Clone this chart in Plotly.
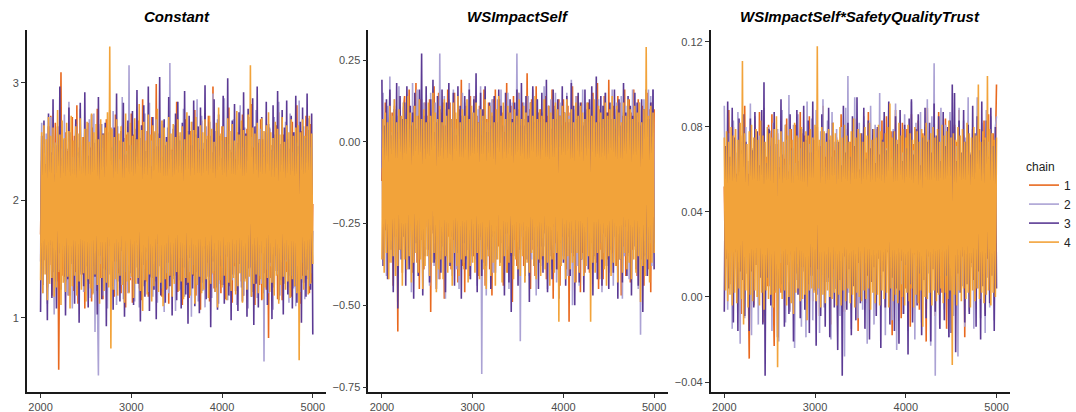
import plotly.graph_objects as go

iterations = [2000 + 12.5 * j for j in range(241)]  # thinned draws per chain
chains = ["1", "2", "3", "4"]
colors = ["#E8691F", "#ABA2D4", "#5B3A94", "#F2A33A"]
titles = ["Constant", "WSImpactSelf", "WSImpactSelf*SafetyQualityTrust"]

constant_c1 = [
    1.71, 2.34, 1.42, 2.49, 1.58, 2.21, 1.26, 2.63, 1.45, 2.72, 1.19, 2.38, 1.53, 2.66, 1.31, 2.47, 0.56, 2.29, 3.09, 1.36,
    2.27, 1.35, 2.58, 1.64, 2.42, 1.19, 2.36, 1.48, 2.71, 1.23, 2.55, 1.39, 2.81, 1.12, 2.45, 1.62, 2.19, 1.37, 2.54, 1.08,
    2.38, 1.55, 2.66, 1.29, 2.45, 1.14, 2.62, 1.44, 2.31, 1.23, 2.78, 1.59, 2.25, 1.34, 2.49, 1.16, 2.57, 1.41, 2.69, 1.27,
    2.39, 1.66, 2.62, 1.27, 2.48, 1.18, 2.73, 1.49, 2.18, 1.38, 2.51, 1.21, 2.64, 1.45, 2.33, 1.09, 2.56, 1.61, 2.47, 1.32,
    2.74, 1.13, 2.56, 1.39, 2.24, 1.57, 2.68, 1.25, 2.42, 1.15, 2.86, 1.46, 2.37, 1.31, 2.59, 1.18, 2.44, 1.52, 2.71, 1.24,
    2.33, 1.41, 2.99, 1.28, 2.52, 1.63, 2.29, 1.18, 2.65, 1.46, 2.37, 1.24, 2.53, 1.12, 2.76, 1.35, 2.43, 1.59, 2.21, 1.36,
    2.84, 1.22, 2.52, 1.47, 2.32, 1.11, 2.46, 1.63, 2.69, 1.28, 2.38, 1.17, 2.59, 1.47, 2.26, 1.36, 2.77, 1.19, 2.51, 1.33,
    2.43, 1.07, 2.68, 1.41, 2.35, 1.26, 2.58, 1.52, 2.72, 1.14, 2.44, 1.37, 2.97, 1.25, 2.44, 1.62, 2.18, 1.29, 2.55, 1.21,
    2.63, 1.49, 2.28, 1.16, 2.54, 1.38, 2.79, 1.27, 2.41, 1.13, 2.66, 1.44, 2.35, 1.22, 2.58, 1.56, 2.47, 1.31, 2.73, 1.19,
    2.48, 1.34, 2.61, 1.21, 2.39, 1.58, 2.82, 1.26, 2.45, 1.11, 2.57, 1.43, 2.31, 1.28, 2.69, 1.15, 2.52, 1.37, 2.42, 1.24,
    2.28, 0.83, 2.61, 1.34, 2.47, 1.22, 2.39, 1.58, 2.64, 1.16, 2.75, 1.42, 2.31, 1.15, 2.56, 1.67, 2.22, 1.39, 2.49, 1.26,
    2.38, 1.18, 2.67, 1.45, 2.53, 1.23, 2.81, 1.33, 2.46, 1.12, 2.59, 1.36, 2.34, 1.27, 2.72, 1.41, 2.44, 1.21, 2.65, 1.30,
    1.97]
constant_c2 = [
    1.48, 2.66, 1.21, 2.39, 1.74, 2.57, 1.12, 2.33, 1.59, 2.71, 1.36, 2.18, 1.03, 2.49, 1.67, 2.28, 1.41, 2.62, 1.25, 2.44,
    1.58, 2.73, 1.31, 2.16, 1.19, 2.84, 1.46, 2.52, 1.08, 2.37, 1.62, 2.65, 1.27, 2.41, 1.15, 2.78, 1.39, 2.29, 1.22, 2.61,
    1.44, 2.55, 1.31, 2.69, 1.17, 2.43, 1.35, 2.74, 0.88, 2.52, 1.29, 0.51, 2.37, 1.46, 2.65, 1.19, 2.41, 1.62, 2.29, 1.08,
    2.58, 1.37, 2.21, 1.52, 2.76, 1.24, 2.47, 1.11, 2.63, 1.42, 2.35, 1.28, 2.88, 1.16, 2.53, 1.39, 2.42, 1.21, 3.15, 1.34,
    2.47, 1.71, 2.34, 1.14, 2.61, 1.43, 2.25, 1.09, 2.53, 1.66, 2.38, 1.27, 2.74, 1.49, 2.19, 1.22, 2.83, 1.35, 2.51, 1.18,
    2.44, 1.31, 2.69, 1.13, 2.57, 1.44, 2.36, 1.25, 2.68, 1.05, 2.47, 1.38, 2.62, 1.21, 3.17, 1.57, 2.42, 1.33, 2.64, 1.06,
    2.31, 1.69, 2.55, 1.24, 2.43, 1.51, 2.78, 1.18, 2.36, 1.61, 2.59, 1.39, 2.24, 1.01, 2.67, 1.45, 2.32, 1.29, 2.86, 1.14,
    2.41, 1.35, 2.72, 1.23, 2.49, 1.09, 2.63, 1.47, 2.28, 1.32, 2.55, 1.17, 2.91, 1.40, 2.46, 1.26, 2.69, 1.12, 2.38, 1.53,
    2.51, 1.28, 2.87, 1.54, 2.27, 1.15, 2.48, 1.63, 2.39, 1.32, 2.69, 1.47, 2.22, 1.11, 2.56, 1.38, 2.81, 1.26, 2.45, 1.19,
    2.62, 1.34, 2.37, 1.08, 2.71, 1.43, 2.54, 1.22, 2.33, 1.46, 2.77, 1.17, 2.49, 1.36, 2.61, 1.29, 2.40, 0.63, 2.58, 1.41,
    2.35, 1.21, 2.62, 1.44, 2.46, 1.07, 2.71, 1.53, 2.28, 1.37, 2.84, 1.19, 2.44, 1.62, 2.33, 1.29, 2.67, 1.48, 2.52, 1.13,
    2.74, 1.36, 2.41, 1.25, 2.58, 1.10, 2.49, 1.39, 2.85, 1.22, 2.37, 1.47, 2.63, 1.16, 2.53, 1.33, 2.70, 1.27, 2.45, 1.38,
    1.74]
constant_c3 = [
    1.05, 2.55, 1.28, 2.68, 1.49, 2.31, 0.98, 2.74, 1.62, 2.41, 1.17, 2.86, 1.39, 2.22, 1.08, 2.63, 1.55, 2.97, 1.24, 2.36,
    1.71, 2.52, 1.02, 2.44, 1.33, 2.79, 1.19, 2.58, 1.46, 2.27, 1.12, 2.69, 1.58, 2.41, 0.96, 2.83, 1.37, 2.18, 1.27, 2.92,
    1.44, 2.61, 1.09, 2.38, 1.66, 2.73, 1.21, 2.49, 1.35, 2.27, 1.03, 2.88, 1.53, 2.65, 1.16, 2.57, 1.42, 2.66, 0.93, 2.34,
    1.61, 2.77, 1.26, 2.45, 1.07, 2.62, 1.48, 2.91, 1.31, 2.21, 1.14, 2.59, 1.57, 2.83, 1.01, 2.39, 1.73, 2.68, 1.22, 2.47,
    1.38, 2.76, 1.11, 2.53, 1.64, 2.94, 1.29, 2.35, 0.97, 2.64, 1.45, 2.81, 1.18, 2.42, 1.56, 2.97, 1.06, 2.29, 1.34, 2.71,
    1.24, 2.58, 0.99, 2.46, 1.63, 3.05, 1.19, 2.37, 1.41, 2.69, 1.13, 2.54, 1.47, 2.88, 1.27, 2.43, 1.02, 2.61, 1.36, 2.74,
    1.15, 2.84, 1.32, 2.51, 1.08, 2.66, 1.43, 2.93, 1.20, 2.38, 0.95, 2.72, 1.51, 2.47, 1.25, 2.85, 1.10, 2.56, 1.39, 2.63,
    1.04, 2.79, 1.30, 2.44, 1.59, 2.98, 1.16, 2.52, 1.35, 2.67, 0.92, 2.41, 1.48, 2.86, 1.22, 2.59, 1.07, 2.73, 1.44, 2.36,
    1.28, 2.89, 1.12, 2.54, 1.52, 3.04, 1.19, 2.43, 0.98, 2.68, 1.37, 2.82, 1.23, 2.49, 1.06, 2.75, 1.46, 2.61, 1.14, 2.92,
    1.33, 2.57, 1.01, 2.78, 1.42, 2.46, 1.18, 2.87, 0.94, 2.63, 1.29, 2.97, 1.09, 2.52, 1.55, 2.71, 1.21, 2.39, 1.38, 2.84,
    1.11, 2.65, 1.47, 2.43, 0.99, 2.81, 1.26, 2.56, 1.40, 2.93, 1.15, 2.48, 1.32, 2.77, 1.03, 2.62, 1.49, 2.85, 1.20, 2.44,
    1.36, 2.72, 1.08, 2.58, 1.27, 2.89, 1.13, 2.46, 1.43, 2.67, 0.96, 2.79, 1.30, 2.53, 1.18, 2.91, 1.41, 2.60, 1.24, 2.74,
    0.86]
constant_c4 = [
    1.32, 2.58, 1.21, 2.64, 1.37, 2.52, 1.15, 2.71, 1.29, 2.55, 1.34, 2.62, 1.18, 2.49, 1.26, 2.77, 1.39, 2.56, 1.11, 2.68,
    1.30, 2.53, 1.22, 2.66, 1.35, 2.59, 1.08, 2.72, 1.27, 2.51, 1.36, 2.63, 1.19, 2.57, 1.31, 2.70, 1.24, 2.54, 1.38, 2.61,
    1.14, 2.67, 1.33, 2.50, 1.25, 2.74, 1.20, 2.58, 1.37, 2.65, 1.28, 2.52, 1.12, 2.69, 1.34, 2.56, 1.23, 2.62, 1.30, 2.75,
    1.26, 3.31, 0.74, 2.61, 1.24, 2.54, 1.33, 2.69, 1.19, 2.57, 1.36, 2.63, 1.28, 2.50, 1.13, 2.74, 1.31, 2.58, 1.21, 2.66,
    1.35, 2.55, 1.17, 2.70, 1.29, 2.52, 1.34, 2.82, 1.23, 2.60, 1.06, 2.67, 1.32, 2.51, 1.20, 2.73, 1.37, 2.56, 1.14, 2.64,
    1.27, 2.59, 1.35, 2.78, 1.22, 2.53, 1.30, 2.68, 1.10, 2.62, 1.33, 2.50, 1.25, 2.71, 1.36, 2.57, 1.18, 2.65, 1.29, 2.54,
    1.39, 2.69, 1.23, 2.58, 1.31, 2.63, 1.16, 2.52, 1.34, 2.75, 1.30, 2.56, 1.19, 2.67, 1.37, 2.60, 1.12, 2.71, 1.28, 2.53,
    1.35, 2.64, 1.21, 2.58, 1.24, 2.69, 1.33, 2.55, 1.17, 2.72, 1.29, 2.61, 1.38, 2.50, 1.22, 2.66, 1.09, 2.79, 1.32, 2.57,
    1.26, 2.63, 1.36, 2.54, 1.15, 2.70, 1.30, 2.59, 1.23, 2.65, 1.34, 2.51, 1.20, 2.76, 1.27, 2.56, 1.38, 2.68, 1.13, 2.60,
    1.31, 2.55, 1.24, 2.73, 1.35, 3.15, 1.18, 2.62, 1.29, 2.57, 1.37, 2.66, 1.21, 2.52, 1.33, 2.70, 1.16, 2.59, 1.26, 2.64,
    1.34, 2.75, 1.22, 2.58, 1.30, 2.53, 1.19, 2.67, 1.36, 2.61, 1.12, 2.56, 1.28, 2.71, 1.35, 2.50, 1.24, 2.64, 1.31, 2.58,
    1.17, 2.69, 1.33, 2.55, 1.27, 2.62, 1.21, 2.64, 0.64, 2.58, 1.33, 2.69, 1.24, 2.55, 1.36, 2.63, 1.20, 2.72, 1.29, 2.57,
    1.46]

ws_c1 = [
    -0.12, 0.07, -0.31, 0.12, -0.26, 0.04, -0.37, 0.15, -0.21, 0.09, -0.44, 0.11, -0.29, 0.03, -0.58, 0.14, -0.33, 0.06, -0.40, 0.10,
    0.14, -0.34, 0.02, -0.28, 0.16, -0.19, 0.05, -0.40, 0.11, -0.24, 0.18, -0.37, 0.08, -0.45, 0.13, -0.30, 0.04, -0.39, 0.12, -0.26,
    0.08, -0.33, 0.13, -0.52, 0.03, -0.27, 0.17, -0.36, 0.06, -0.21, 0.15, -0.42, 0.09, -0.31, 0.12, -0.48, 0.05, -0.35, 0.16, -0.29,
    0.12, -0.39, 0.01, -0.30, 0.15, -0.25, 0.07, -0.43, 0.10, -0.18, 0.19, -0.38, 0.04, -0.46, 0.11, -0.33, 0.08, -0.41, 0.14, -0.27,
    0.04, -0.35, 0.14, -0.23, 0.08, -0.41, 0.11, -0.29, 0.02, -0.37, 0.16, -0.44, 0.07, -0.32, 0.12, -0.39, 0.05, -0.47, 0.13, -0.28,
    0.16, -0.26, 0.06, -0.32, 0.13, -0.20, 0.09, -0.44, 0.03, -0.28, 0.18, -0.40, 0.07, -0.35, 0.11, -0.49, 0.14, -0.30, 0.05, -0.38,
    0.15, -0.34, 0.05, -0.24, 0.12, -0.38, 0.07, -0.30, 0.21, -0.22, 0.10, -0.45, 0.13, -0.33, 0.06, -0.41, 0.17, -0.28, 0.09, -0.37,
    0.10, -0.36, 0.04, -0.27, 0.14, -0.42, 0.08, -0.25, 0.02, -0.33, 0.16, -0.48, 0.11, -0.31, 0.07, -0.39, 0.13, -0.44, 0.05, -0.29,
    0.13, -0.21, 0.06, -0.39, 0.11, -0.55, 0.09, -0.28, 0.17, -0.35, 0.04, -0.43, 0.14, -0.30, 0.08, -0.46, 0.12, -0.34, 0.06, -0.40,
    0.05, -0.23, 0.12, -0.40, 0.08, -0.31, 0.15, -0.26, 0.03, -0.37, 0.18, -0.45, 0.10, -0.33, 0.07, -0.42, 0.14, -0.29, 0.09, -0.36,
    0.19, -0.29, 0.07, -0.34, 0.11, -0.24, 0.04, -0.38, 0.14, -0.27, 0.12, -0.47, 0.08, -0.32, 0.16, -0.41, 0.06, -0.35, 0.13, -0.43,
    0.09, -0.33, 0.16, -0.22, 0.06, -0.41, 0.13, -0.30, 0.05, -0.36, 0.11, -0.44, 0.07, -0.28, 0.15, -0.39, 0.10, -0.46, 0.12, -0.34,
    0.10]
ws_c2 = [
    -0.08, 0.15, -0.34, 0.06, -0.41, 0.11, -0.21, 0.20, -0.29, 0.03, -0.37, 0.13, -0.16, 0.08, -0.43, 0.17, -0.25, 0.05, -0.32, 0.12,
    -0.19, 0.09, -0.39, 0.14, -0.27, 0.04, -0.46, 0.18, -0.35, 0.10, -0.22, 0.16, -0.40, 0.07, -0.30, 0.13, -0.37, 0.12, -0.24, 0.11,
    -0.33, 0.08, -0.44, 0.15, -0.26, 0.05, -0.38, 0.12, -0.29, 0.09, -0.42, 0.27, -0.31, 0.06, -0.36, 0.14, -0.48, 0.10, -0.23, 0.13,
    -0.34, 0.07, -0.41, 0.16, -0.28, 0.04, -0.39, 0.11, -0.45, 0.08, -0.30, 0.15, -0.37, 0.12, -0.36, 0.06, -0.33, 0.18, -0.42, 0.09,
    -0.27, 0.14, -0.36, 0.05, -0.44, 0.10, -0.23, 0.17, -0.71, 0.08, -0.31, 0.13, -0.47, 0.06, -0.35, 0.11, -0.28, 0.13, -0.40, 0.12,
    -0.19, -0.36, 0.13, 0.08, -0.37, 0.16, -0.27, 0.03, -0.40, 0.11, -0.33, 0.15, -0.45, 0.07, -0.29, 0.12, -0.38, 0.09, -0.25, 0.27,
    -0.22, 0.15, -0.61, 0.07, -0.29, 0.12, -0.43, 0.05, -0.25, 0.14, -0.41, 0.10, -0.36, 0.16, -0.30, 0.08, -0.47, 0.13, -0.32, 0.06,
    -0.38, 0.09, -0.21, 0.17, -0.32, 0.06, -0.45, 0.11, -0.26, 0.13, -0.39, 0.08, -0.34, 0.15, -0.43, 0.10, -0.28, 0.12, -0.37, 0.05,
    -0.35, 0.04, -0.28, 0.15, -0.41, 0.08, -0.23, 0.19, -0.50, 0.10, -0.33, 0.14, -0.38, 0.07, -0.44, 0.11, -0.27, 0.16, -0.36, 0.09,
    -0.30, 0.12, -0.24, 0.06, -0.39, 0.14, -0.27, 0.09, -0.36, 0.05, -0.42, 0.13, -0.31, 0.08, -0.46, 0.11, -0.34, 0.15, -0.29, 0.07,
    -0.40, 0.10, -0.33, 0.16, -0.44, 0.08, -0.26, 0.12, -0.37, 0.06, -0.31, 0.14, -0.48, 0.09, -0.35, 0.11, -0.28, 0.13, -0.42, 0.07,
    -0.22, 0.16, -0.33, 0.11, -0.38, 0.08, -0.45, 0.12, -0.59, 0.10, -0.29, 0.13, -0.36, 0.09, -0.41, 0.16, -0.31, 0.14, -0.38, 0.16,
    -0.31]
ws_c3 = [
    0.19, -0.38, 0.05, -0.27, 0.13, -0.42, -0.06, 0.16, -0.33, 0.02, -0.46, 0.10, -0.22, 0.18, -0.51, -0.03, 0.14, -0.36, 0.07, -0.29,
    0.12, -0.44, 0.17, -0.15, -0.39, 0.11, -0.25, 0.09, -0.48, 0.15, -0.31, 0.04, -0.41, 0.16, -0.19, 0.27, -0.47, 0.08, -0.35, 0.17,
    -0.23, 0.06, -0.43, 0.13, -0.28, 0.19, -0.37, 0.03, -0.45, 0.14, -0.21, 0.10, -0.40, 0.16, -0.32, 0.05, -0.46, 0.12, -0.26, 0.18,
    -0.38, 0.07, -0.29, 0.15, -0.44, 0.02, -0.34, 0.17, -0.24, 0.11, -0.48, 0.08, -0.31, 0.14, -0.39, 0.04, -0.27, 0.16, -0.42, 0.09,
    -0.35, 0.13, -0.22, 0.21, -0.46, 0.06, -0.30, 0.15, -0.41, 0.10, -0.26, 0.17, -0.38, 0.03, -0.33, 0.12, -0.45, 0.08, -0.29, 0.14,
    -0.40, 0.06, -0.24, 0.16, -0.37, 0.11, -0.31, 0.05, -0.47, 0.15, -0.28, 0.09, -0.43, 0.13, -0.52, 0.07, -0.35, 0.12, -0.25, 0.16,
    -0.44, 0.10, -0.33, 0.18, -0.27, 0.05, -0.41, 0.14, -0.36, 0.08, -0.49, 0.12, -0.30, 0.17, -0.38, 0.06, -0.23, 0.13, -0.45, 0.09,
    -0.32, 0.15, -0.40, 0.07, -0.28, 0.19, -0.46, 0.11, -0.35, 0.04, -0.42, 0.16, -0.26, 0.10, -0.39, 0.13, -0.48, 0.08, -0.31, 0.17,
    -0.37, 0.09, -0.44, 0.14, -0.29, 0.06, -0.41, 0.18, -0.34, 0.11, -0.50, 0.07, -0.27, 0.15, -0.43, 0.12, -0.36, 0.05, -0.46, 0.16,
    -0.30, 0.10, -0.39, 0.13, -0.25, 0.17, -0.47, 0.08, -0.35, 0.20, -0.42, 0.06, -0.31, 0.14, -0.44, 0.11, -0.28, 0.15, -0.38, 0.09,
    -0.45, 0.12, -0.33, 0.07, -0.40, 0.16, -0.29, 0.10, -0.48, 0.13, -0.36, 0.05, -0.43, 0.18, -0.26, 0.09, -0.41, 0.14, -0.34, 0.11,
    -0.47, 0.08, -0.32, 0.15, -0.39, 0.12, -0.44, 0.06, -0.28, 0.13, -0.52, 0.10, -0.35, 0.16, -0.41, 0.07, -0.30, 0.12, -0.25, 0.16,
    -0.39]
ws_c4 = [
    -0.36, 0.07, -0.40, 0.09, -0.34, 0.06, -0.42, 0.11, -0.37, 0.08, -0.35, 0.13, -0.41, 0.06, -0.38, 0.10, -0.33, 0.08, -0.44, 0.12,
    -0.36, 0.07, -0.39, 0.14, -0.35, 0.09, -0.43, 0.06, -0.37, 0.11, -0.34, 0.08, -0.40, 0.13, -0.36, 0.07, -0.45, 0.10, -0.38, 0.06,
    -0.35, 0.12, -0.41, 0.08, -0.37, 0.15, -0.34, 0.09, -0.46, 0.07, -0.39, 0.11, -0.36, 0.06, -0.42, 0.13, -0.35, 0.08, -0.40, 0.10,
    -0.37, 0.07, -0.44, 0.12, -0.34, 0.09, -0.38, 0.14, -0.41, 0.06, -0.36, 0.10, -0.39, 0.08, -0.35, 0.13, -0.43, 0.07, -0.38, 0.11,
    -0.37, 0.09, -0.40, 0.12, -0.34, 0.06, -0.42, 0.10, -0.36, 0.08, -0.39, 0.13, -0.45, 0.07, -0.35, 0.11, -0.41, 0.09, -0.37, 0.06,
    -0.44, 0.10, -0.36, 0.14, -0.38, 0.08, -0.43, 0.12, -0.35, 0.07, -0.40, 0.11, -0.37, 0.09, -0.34, 0.06, -0.42, 0.10, -0.36, 0.08,
    -0.39, 0.13, -0.41, 0.07, -0.35, 0.11, -0.43, 0.09, -0.37, 0.06, -0.40, 0.12, -0.34, 0.08, -0.38, 0.14, -0.42, 0.07, -0.36, 0.10,
    -0.41, 0.08, -0.35, 0.13, -0.39, 0.06, -0.37, 0.11, -0.44, 0.09, -0.36, 0.07, -0.40, 0.12, -0.34, 0.10, -0.55, 0.08, -0.38, 0.11,
    -0.36, 0.09, -0.42, 0.13, -0.35, 0.07, -0.39, 0.10, -0.37, 0.06, -0.43, 0.12, -0.34, 0.08, -0.40, 0.11, -0.36, 0.09, -0.41, 0.07,
    -0.38, 0.12, -0.35, 0.10, -0.55, 0.08, -0.37, 0.13, -0.40, 0.06, -0.34, 0.11, -0.42, 0.09, -0.36, 0.07, -0.39, 0.12, -0.44, 0.08,
    -0.35, 0.10, -0.41, 0.14, -0.37, 0.07, -0.38, 0.11, -0.43, 0.09, -0.36, 0.06, -0.40, 0.12, -0.34, 0.08, -0.39, 0.13, -0.37, 0.10,
    -0.42, 0.07, -0.36, 0.11, -0.40, 0.09, -0.35, 0.12, -0.49, 0.06, -0.38, 0.10, -0.41, 0.29, -0.36, 0.08, -0.43, 0.11, -0.37, 0.09,
    -0.34]

inter_c1 = [
    0.052, 0.014, 0.071, 0.029, 0.088, 0.006, 0.063, 0.035, 0.080, 0.019, 0.058, 0.003, 0.084, 0.017, 0.069, -0.008, 0.076, 0.022, 0.090, 0.011,
    0.058, 0.003, -0.029, 0.074, 0.024, 0.067, -0.004, 0.083, 0.031, 0.055, 0.010, 0.087, 0.016, 0.062, -0.012, 0.078, 0.027, 0.066, 0.005, 0.081,
    0.069, 0.026, 0.086, 0.008, -0.023, 0.061, 0.017, 0.077, 0.036, 0.050, 0.002, 0.073, 0.021, 0.065, 0.012, 0.084, 0.030, 0.059, -0.006, 0.079,
    0.027, 0.064, 0.009, 0.081, 0.018, 0.070, 0.037, 0.087, 0.005, 0.057, 0.032, 0.076, -0.011, 0.068, 0.023, 0.085, 0.014, 0.062, -0.002, 0.074,
    0.028, 0.080, 0.011, 0.060, -0.009, 0.072, 0.025, 0.090, 0.007, 0.066, 0.034, 0.078, 0.015, 0.063, -0.013, 0.082, 0.020, 0.069, 0.004, 0.075,
    0.026, 0.061, 0.010, 0.086, 0.031, 0.067, -0.007, 0.079, 0.018, 0.058, 0.036, 0.073, 0.003, 0.065, 0.022, 0.084, 0.012, 0.070, -0.016, 0.077,
    0.029, 0.062, 0.008, 0.081, 0.019, 0.068, -0.003, 0.087, 0.024, 0.066, 0.013, 0.074, 0.033, 0.060, 0.006, 0.079, 0.021, 0.067, 0.011, 0.083,
    0.015, 0.071, -0.005, 0.085, 0.028, 0.064, 0.009, 0.078, -0.018, 0.069, 0.033, 0.088, 0.012, 0.059, 0.024, 0.076, -0.010, 0.082, 0.019, 0.063,
    0.004, 0.079, 0.030, 0.066, -0.014, 0.086, 0.017, 0.072, 0.008, 0.061, 0.025, 0.083, -0.006, 0.070, 0.035, 0.077, 0.013, 0.064, -0.021, 0.089,
    0.020, 0.068, 0.006, 0.080, 0.027, 0.058, -0.009, 0.075, 0.016, 0.087, 0.031, 0.063, 0.002, 0.071, 0.023, 0.084, -0.015, 0.066, 0.011, 0.078,
    0.034, 0.062, 0.007, 0.081, -0.004, 0.073, 0.019, 0.088, 0.026, 0.060, 0.012, 0.076, -0.019, 0.069, 0.029, 0.083, 0.005, 0.067, 0.021, 0.079,
    0.013, 0.074, 0.033, 0.060, 0.006, 0.079, 0.021, 0.067, 0.011, 0.083, -0.008, 0.071, 0.025, 0.086, 0.003, 0.064, 0.018, 0.077, 0.009, 0.069,
    0.100]
inter_c2 = [
    0.090, 0.022, 0.061, -0.006, 0.077, 0.031, 0.056, -0.015, 0.083, 0.013, 0.068, 0.004, 0.087, 0.026, -0.022, 0.073, 0.017, 0.059, -0.010, 0.080,
    0.011, 0.064, 0.029, 0.091, -0.018, 0.070, 0.009, 0.085, 0.020, 0.057, -0.013, 0.076, 0.014, 0.067, 0.025, 0.089, -0.009, 0.060, 0.018, 0.080,
    0.005, 0.071, -0.016, 0.082, 0.023, 0.058, 0.010, 0.079, -0.021, 0.066, 0.016, 0.088, 0.003, 0.062, -0.012, 0.074, 0.027, 0.095, -0.007, 0.069,
    0.019, 0.081, -0.024, 0.063, 0.008, 0.086, 0.021, 0.070, -0.014, 0.077, 0.012, 0.060, -0.019, 0.092, 0.006, 0.072, 0.024, 0.084, -0.011, 0.065,
    0.015, 0.088, 0.001, 0.069, -0.017, 0.078, 0.020, 0.093, -0.005, 0.061, 0.026, 0.083, 0.009, 0.074, -0.020, 0.087, 0.013, 0.066, 0.004, 0.079,
    0.017, 0.059, -0.009, 0.080, 0.022, 0.071, -0.028, 0.089, 0.011, 0.104, 0.002, 0.064, -0.015, 0.076, 0.018, 0.094, 0.004, 0.068, -0.010, 0.082,
    0.021, 0.071, -0.006, 0.085, 0.014, 0.063, -0.022, 0.078, 0.010, 0.090, 0.028, 0.067, -0.013, 0.081, 0.007, 0.073, 0.019, 0.096, -0.004, 0.062,
    0.016, 0.084, -0.018, 0.070, 0.025, 0.088, 0.003, 0.065, -0.011, 0.079, 0.012, 0.091, -0.025, 0.074, 0.020, 0.083, 0.006, 0.068, -0.008, 0.086,
    0.023, 0.061, -0.016, 0.077, 0.009, 0.092, 0.018, 0.069, -0.020, 0.082, 0.004, 0.074, 0.027, 0.087, -0.012, 0.066, 0.015, 0.080, -0.003, 0.093,
    0.011, 0.070, -0.023, 0.085, 0.019, 0.110, -0.037, 0.063, 0.008, 0.078, -0.015, 0.089, 0.022, 0.067, -0.006, 0.081, 0.013, 0.072, -0.019, 0.087,
    0.017, 0.059, -0.009, 0.080, 0.022, 0.071, -0.028, 0.089, 0.011, 0.064, 0.005, 0.083, -0.014, 0.075, 0.020, 0.094, -0.007, 0.068, 0.014, 0.079,
    -0.015, 0.076, 0.018, 0.094, 0.004, 0.068, -0.010, 0.082, 0.021, 0.071, -0.017, 0.088, 0.009, 0.073, -0.005, 0.085, 0.016, 0.070, -0.011, 0.080,
    0.085]
inter_c3 = [
    -0.007, 0.071, 0.018, 0.092, 0.004, 0.066, 0.027, 0.089, -0.012, 0.075, 0.021, 0.058, -0.016, 0.084, 0.012, 0.069, 0.008, 0.086, -0.009, 0.073,
    0.021, 0.058, -0.016, 0.084, 0.012, 0.069, -0.005, 0.087, 0.015, 0.078, 0.024, 0.062, 0.009, 0.088, -0.013, 0.101, -0.037, 0.063, 0.009, 0.079,
    0.078, -0.004, 0.055, 0.017, 0.087, 0.003, 0.072, -0.019, 0.061, 0.024, 0.093, 0.006, 0.067, -0.014, 0.081, 0.015, 0.059, -0.008, 0.086, 0.020,
    0.070, -0.021, 0.057, 0.011, 0.088, 0.001, 0.064, -0.010, 0.079, 0.014, 0.090, -0.006, 0.074, 0.019, 0.083, -0.017, 0.068, 0.010, 0.092, 0.003,
    0.065, -0.023, 0.080, 0.013, 0.071, -0.009, 0.086, 0.022, 0.060, -0.014, 0.077, 0.007, 0.089, -0.019, 0.066, 0.016, 0.082, -0.005, 0.073, 0.011,
    -0.025, 0.073, 0.008, 0.062, -0.037, 0.090, 0.019, 0.068, -0.006, 0.082, 0.013, 0.066, -0.018, 0.085, 0.005, 0.071, -0.011, 0.094, 0.016, 0.060,
    -0.003, 0.077, 0.022, 0.089, -0.015, 0.065, 0.010, 0.083, -0.020, 0.070, 0.007, 0.079, 0.014, 0.063, -0.009, 0.080, 0.018, 0.067, -0.024, 0.074,
    0.012, 0.087, -0.005, 0.069, 0.021, 0.092, -0.013, 0.061, 0.009, 0.078, -0.016, 0.085, 0.004, 0.072, -0.022, 0.088, 0.017, 0.064, -0.008, 0.081,
    0.015, 0.070, -0.027, 0.084, 0.006, 0.093, -0.012, 0.067, 0.020, 0.079, -0.004, 0.086, 0.011, 0.062, -0.018, 0.075, 0.008, 0.089, -0.010, 0.073,
    0.019, 0.082, -0.021, 0.068, 0.013, 0.091, -0.007, 0.076, 0.002, 0.085, -0.015, 0.064, 0.024, 0.087, -0.011, 0.071, 0.010, 0.080, -0.019, 0.083,
    -0.017, 0.100, 0.015, 0.096, -0.026, 0.064, 0.011, 0.083, 0.002, 0.068, 0.019, 0.088, -0.012, 0.073, 0.006, 0.081, -0.008, 0.067, 0.016, 0.090,
    0.008, 0.077, -0.014, 0.085, 0.012, 0.069, -0.020, 0.092, 0.005, 0.074, -0.009, 0.083, 0.018, 0.066, -0.003, 0.089, 0.010, 0.071, -0.016, 0.080,
    0.004]
inter_c4 = [
    0.075, 0.003, 0.078, -0.002, 0.073, 0.001, 0.080, -0.004, 0.076, 0.002, 0.079, -0.003, 0.074, 0.004, 0.082, -0.001, 0.111, -0.013, 0.077, 0.003,
    0.072, -0.005, 0.078, 0.001, 0.081, -0.002, 0.075, 0.003, 0.079, 0.000, 0.074, -0.004, 0.083, 0.002, 0.076, -0.006, 0.073, 0.003, 0.080, -0.001,
    0.077, 0.001, 0.075, -0.005, 0.079, 0.002, 0.085, -0.033, 0.074, 0.004, 0.078, -0.001, 0.073, 0.003, 0.081, -0.004, 0.076, 0.000, 0.079, -0.003,
    0.074, -0.008, 0.082, 0.002, 0.076, 0.004, 0.075, -0.002, 0.080, -0.001, 0.073, 0.001, 0.078, -0.011, 0.076, 0.003, 0.079, 0.004, 0.075, 0.002,
    0.081, -0.002, 0.118, 0.004, 0.074, -0.005, 0.080, 0.001, 0.078, -0.003, 0.073, 0.003, 0.079, 0.000, 0.076, -0.001, 0.082, 0.002, 0.077, -0.004,
    0.074, 0.001, 0.080, -0.004, 0.075, 0.003, 0.081, -0.002, 0.076, 0.004, 0.073, -0.003, 0.078, 0.001, 0.084, -0.005, 0.075, 0.002, 0.079, 0.000,
    0.077, -0.002, 0.073, 0.003, 0.080, -0.001, 0.076, 0.004, 0.082, -0.006, 0.074, 0.002, 0.079, -0.003, 0.075, 0.001, 0.081, -0.004, 0.078, 0.003,
    0.073, -0.001, 0.077, 0.002, 0.080, -0.005, 0.091, 0.004, 0.075, -0.002, 0.078, 0.001, 0.074, -0.003, 0.082, 0.003, 0.076, 0.000, 0.079, -0.004,
    0.075, 0.002, 0.081, -0.002, 0.077, 0.004, 0.074, -0.005, 0.080, 0.001, 0.078, -0.003, 0.073, 0.003, 0.079, -0.014, 0.076, 0.000, 0.082, -0.001,
    0.074, 0.002, 0.077, -0.004, 0.080, 0.003, 0.075, -0.002, 0.079, 0.001, 0.073, 0.004, 0.081, -0.003, 0.076, 0.002, 0.078, -0.001, 0.083, 0.003,
    0.075, -0.032, 0.077, 0.001, 0.074, -0.004, 0.080, 0.003, 0.076, -0.002, 0.079, 0.004, 0.073, -0.001, 0.082, 0.002, 0.077, -0.005, 0.075, 0.003,
    0.080, -0.002, 0.076, 0.004, 0.100, -0.001, 0.073, 0.002, 0.078, -0.003, 0.075, 0.001, 0.104, 0.003, 0.079, -0.004, 0.077, 0.002, 0.074, 0.000,
    0.075]

panels = [
    [constant_c1, constant_c2, constant_c3, constant_c4],
    [ws_c1, ws_c2, ws_c3, ws_c4],
    [inter_c1, inter_c2, inter_c3, inter_c4],
]
for series in panels:
    for vals in series:
        assert len(vals) == len(iterations), [len(v) for s in panels for v in s]

y_ranges = [[0.37, 3.45], [-0.765, 0.342], [-0.0447, 0.1256]]
y_ticks = [[1, 2, 3], [-0.75, -0.5, -0.25, 0, 0.25], [-0.04, 0, 0.04, 0.08, 0.12]]
y_formats = [".0f", ".2f", ".2f"]

W, H = 1076, 412
x_domains = [[27 / W, 327 / W], [369 / W, 669 / W], [712 / W, 1012 / W]]
y_domain = [1 - 392 / H, 1 - 30 / H]

fig = go.Figure()
for p, series in enumerate(panels):
    suffix = "" if p == 0 else str(p + 1)
    for c, vals in enumerate(series):
        fig.add_trace(go.Scatter(
            x=iterations, y=vals, mode="lines",
            line=dict(color=colors[c], width=1.6),
            name=chains[c], legendgroup=chains[c], showlegend=(p == 0),
            xaxis="x" + suffix, yaxis="y" + suffix,
        ))

axis_common = dict(showgrid=False, zeroline=False, showline=True, linecolor="#1a1a1a",
                   linewidth=1.6, ticks="outside", ticklen=4, tickcolor="#333333",
                   tickwidth=1, tickfont=dict(size=11, color="#4D4D4D"))
layout = dict(
    width=W, height=H, margin=dict(l=0, r=0, t=0, b=0),
    paper_bgcolor="white", plot_bgcolor="white",
    font=dict(family="Liberation Sans, Arial, sans-serif"),
    legend=dict(title=dict(text="chain", font=dict(size=12, color="#222")),
                font=dict(size=12, color="#222"), x=1026 / W, xanchor="left",
                y=0.5, yanchor="middle", tracegroupgap=0, itemwidth=30),
    annotations=[],
)
for p in range(3):
    suffix = "" if p == 0 else str(p + 1)
    layout["xaxis" + suffix] = dict(axis_common, domain=x_domains[p], range=[1850, 5150],
                                    tickvals=[2000, 3000, 4000, 5000], anchor="y" + suffix)
    layout["yaxis" + suffix] = dict(axis_common, domain=y_domain, range=y_ranges[p],
                                    tickvals=y_ticks[p], tickformat=y_formats[p],
                                    anchor="x" + suffix)
    layout["annotations"].append(dict(
        text="<b><i>" + titles[p] + "</i></b>", xref="paper", yref="paper",
        x=(x_domains[p][0] + x_domains[p][1]) / 2, y=1 - 17 / H,
        xanchor="center", yanchor="middle", showarrow=False,
        font=dict(size=15, color="black")))
fig.update_layout(**layout)
fig.write_html("out.html")
